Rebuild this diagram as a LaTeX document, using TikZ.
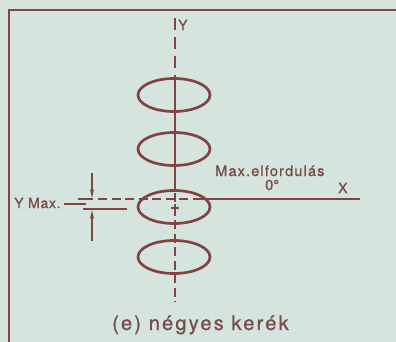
\documentclass[tikz,border=0pt]{standalone}
\usepackage{fontspec}
\setmainfont{TeX Gyre Heros}
\usetikzlibrary{shapes.geometric,arrows.meta}
\definecolor{bgc}{RGB}{214,228,222}
\definecolor{ink}{RGB}{130,68,66}
\definecolor{txt}{RGB}{118,76,72}
\begin{document}
\begin{tikzpicture}[x=1bp,y=-1bp,
  wheel/.style={draw=ink,line width=2.7bp,ellipse,minimum width=72bp,minimum height=33bp,inner sep=0pt},
  axis/.style={draw=ink,line width=1.3bp},
  dashaxis/.style={axis,dash pattern=on 9bp off 4.5bp},
  topdash/.style={axis,dash pattern=on 12bp off 7bp},
  lbl/.style={text=txt,inner sep=0pt,anchor=base west},
  dimarrow/.style={axis,-{Stealth[length=9bp,width=4bp]}}]
\fill[bgc] (0,0) rectangle (396,342);
\useasboundingbox (0,0) rectangle (396,342);
% frame
\coordinate (fbl) at (9,342);
\coordinate (ftl) at (9,10);
\coordinate (ftr) at (396,10);
\draw[ink,line width=2bp] (fbl) -- (ftl) -- (ftr);
% wheels
\node[wheel] (w1) at (174,95) {};
\node[wheel] (w2) at (174,149) {};
\node[wheel] (w3) at (174,207) {};
\node[wheel] (w4) at (174,257) {};
% vertical axis
\coordinate (y0) at (175,18);
\coordinate (y1) at (175,77);
\coordinate (y2) at (175,191);
\coordinate (y3) at (175,302);
\draw[topdash] (y0) -- (y1);
\draw[axis] (y1) -- (y2);
\draw[dashaxis] (175,193) -- (y3);
% centre mark
\coordinate (c1) at (171,208);
\coordinate (c2) at (179,208);
\coordinate (c3) at (175,204);
\coordinate (c4) at (175,212);
\draw[axis] (c1) -- (c2);
\draw[axis] (c3) -- (c4);
% horizontal axis
\coordinate (h0) at (78,199);
\coordinate (h1) at (93,199);
\coordinate (h2) at (98,199);
\coordinate (h3) at (201,199);
\coordinate (h4) at (360,199);
\draw[axis] (h0) -- (h1);
\draw[dashaxis] (h2) -- (h3);
\draw[axis] (h3) -- (h4);
% displaced centre line
\coordinate (l0) at (83,209);
\coordinate (l1) at (127,209);
\draw[axis] (l0) -- (l1);
% leader
\coordinate (ld0) at (64,204);
\coordinate (ld1) at (86,204);
\draw[axis] (ld0) -- (ld1);
% dimension arrows
\coordinate (a0) at (92,173);
\coordinate (a1) at (92,198);
\coordinate (b0) at (92,241);
\coordinate (b1) at (92,210);
\draw[dimarrow] (a0) -- (a1);
\draw[dimarrow] (b0) -- (b1);
% labels
\node[lbl,font=\fontsize{14bp}{16bp}\selectfont\addfontfeature{FakeBold=0.8}] (ylbl) at (178,30) {Y};
\node[lbl,font=\fontsize{14bp}{16bp}\selectfont\addfontfeature{LetterSpace=5,FakeBold=0.8}] (ymax) at (14,208) {Y Max.};
\node[lbl,font=\fontsize{14.5bp}{16bp}\selectfont\addfontfeature{LetterSpace=8,FakeBold=0.8}] (maxel) at (215,176) {Max.elfordulás};
\node[lbl,font=\fontsize{14.5bp}{16bp}\selectfont\addfontfeature{FakeBold=0.8}] (zero) at (265,190) {0°};
\node[lbl,font=\fontsize{14bp}{16bp}\selectfont\addfontfeature{FakeBold=0.8}] (xlbl) at (338,193) {X};
\node[lbl,font=\fontsize{20bp}{22bp}\selectfont\addfontfeature{LetterSpace=11,FakeBold=0.8}] (cap) at (112,330) {(e) négyes kerék};
\end{tikzpicture}
\end{document}
